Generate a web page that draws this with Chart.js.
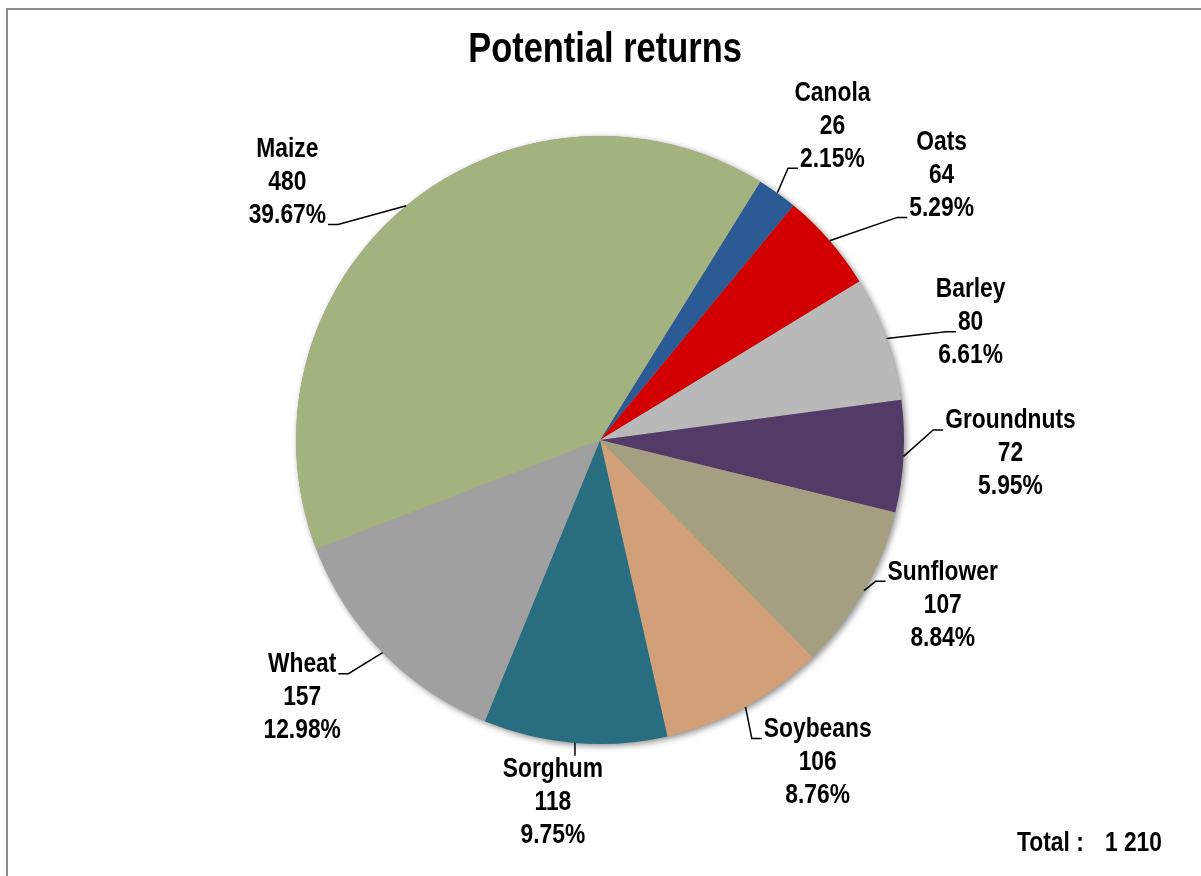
<!DOCTYPE html>
<html lang="en">
<head>
    <meta charset="UTF-8">
    <title>Potential returns</title>
    <script src="https://cdn.jsdelivr.net/npm/chart.js@4"></script>
    <style>
        html, body { margin: 0; padding: 0; background: #fff; }
        #wrap { width: 1201px; height: 876px; }
    </style>
</head>
<body>
<div id="wrap">
    <canvas id="pieChart" width="1201" height="876"></canvas>
</div>
<script>
    // data (clockwise, starting after Maize)
    const crops = ['Canola', 'Oats', 'Barley', 'Groundnuts', 'Sunflower', 'Soybeans', 'Sorghum', 'Wheat', 'Maize'];
    const returns = [26, 64, 80, 72, 107, 106, 118, 157, 480];
    const sliceColors = ['#2C5A94', '#D20000', '#B9B9B9', '#533B67', '#A39F80', '#D1A078', '#296E80', '#A0A0A0', '#A3B380'];

    // label layout: nudge from default spot, and which text row the leader line hooks onto
    const labelNudge = [[5, 3], [47, -9], [3, 13], [21, -7], [4, -28], [31, -20], [-15, -26], [-19, -15], [-64, 43]];
    const leaderRow = [2, 2, 1, 0, 0, 0, 0, 0, 2];

    const total = returns.reduce((a, b) => a + b, 0);
    const FONT = '"Liberation Sans", Arial, sans-serif';

    function fmtThousands(n) {
        return String(n).replace(/\B(?=(\d{3})+(?!\d))/g, ' ');
    }

    // draw condensed text (no Arial Narrow here, so squeeze Liberation Sans)
    function narrowText(ctx, t, x, y, sx) {
        ctx.save();
        ctx.translate(x, y);
        ctx.scale(sx, 1);
        ctx.fillText(t, 0, 0);
        ctx.restore();
    }

    // soft shadow under the whole pie
    const pieShadow = {
        id: 'pieShadow',
        beforeDatasetsDraw(chart) {
            const arc = chart.getDatasetMeta(0).data[0];
            if (!arc) return;
            const ctx = chart.ctx;
            ctx.save();
            ctx.shadowColor = 'rgba(0,0,0,0.45)';
            ctx.shadowBlur = 6;
            ctx.shadowOffsetX = 2;
            ctx.shadowOffsetY = 2;
            ctx.fillStyle = '#999';
            ctx.beginPath();
            ctx.arc(arc.x, arc.y, arc.outerRadius, 0, Math.PI * 2);
            ctx.fill();
            ctx.restore();
        }
    };

    const decorations = {
        id: 'decorations',
        afterDraw(chart) {
            const ctx = chart.ctx;
            const meta = chart.getDatasetMeta(0);
            const lh = 33;
            const sx = 0.845;
            ctx.save();

            // frame (only top and left edges show)
            ctx.strokeStyle = '#8E8E8E';
            ctx.lineWidth = 2;
            ctx.beginPath();
            ctx.moveTo(7, 880);
            ctx.lineTo(7, 9);
            ctx.lineTo(1205, 9);
            ctx.stroke();

            // title
            ctx.fillStyle = '#000';
            ctx.font = 'bold 42px ' + FONT;
            ctx.textAlign = 'center';
            ctx.textBaseline = 'alphabetic';
            narrowText(ctx, 'Potential returns', 605, 62, 0.82);

            // slice labels
            ctx.font = 'bold 27px ' + FONT;
            ctx.textBaseline = 'middle';
            meta.data.forEach((arc, i) => {
                const mid = (arc.startAngle + arc.endAngle) / 2;
                const r = arc.outerRadius;
                const px = arc.x + Math.cos(mid) * r;
                const py = arc.y + Math.sin(mid) * r;
                const cx = arc.x + Math.cos(mid) * r * 1.283 + labelNudge[i][0];
                const cy = arc.y + Math.sin(mid) * r * 1.283 + labelNudge[i][1];
                const lines = [crops[i], String(returns[i]), (returns[i] / total * 100).toFixed(2) + '%'];
                lines.forEach((t, k) => narrowText(ctx, t, cx, cy + (k - 1) * lh, sx));

                // leader line
                const row = leaderRow[i];
                const w = ctx.measureText(lines[row]).width * sx;
                const ly = cy + (row - 1) * lh + 9;
                ctx.strokeStyle = '#000';
                ctx.lineWidth = 1.5;
                ctx.beginPath();
                if (px < cx - w / 2) {
                    const ex = cx - w / 2 - 2;
                    ctx.moveTo(px, py);
                    ctx.lineTo(ex - 10, ly);
                    ctx.lineTo(ex, ly);
                } else if (px > cx + w / 2) {
                    const ex = cx + w / 2 + 2;
                    ctx.moveTo(px, py);
                    ctx.lineTo(ex + 10, ly);
                    ctx.lineTo(ex, ly);
                } else {
                    ctx.moveTo(px, py);
                    ctx.lineTo(px, cy - lh - 14);
                }
                ctx.stroke();
            });

            // total
            ctx.textBaseline = 'alphabetic';
            ctx.textAlign = 'left';
            narrowText(ctx, 'Total :', 1017, 851, sx);
            ctx.textAlign = 'right';
            narrowText(ctx, fmtThousands(total), 1162, 851, sx);
            ctx.restore();
        }
    };

    new Chart(document.getElementById('pieChart'), {
        type: 'pie',
        data: {
            labels: crops,
            datasets: [{
                data: returns,
                backgroundColor: sliceColors,
                borderWidth: 0
            }]
        },
        options: {
            responsive: false,
            animation: false,
            rotation: 31.8,
            layout: { padding: { top: 136, bottom: 132, left: 296, right: 297 } },
            plugins: {
                legend: { display: false },
                tooltip: { enabled: false },
                title: { display: false }
            }
        },
        plugins: [pieShadow, decorations]
    });
</script>
</body>
</html>
